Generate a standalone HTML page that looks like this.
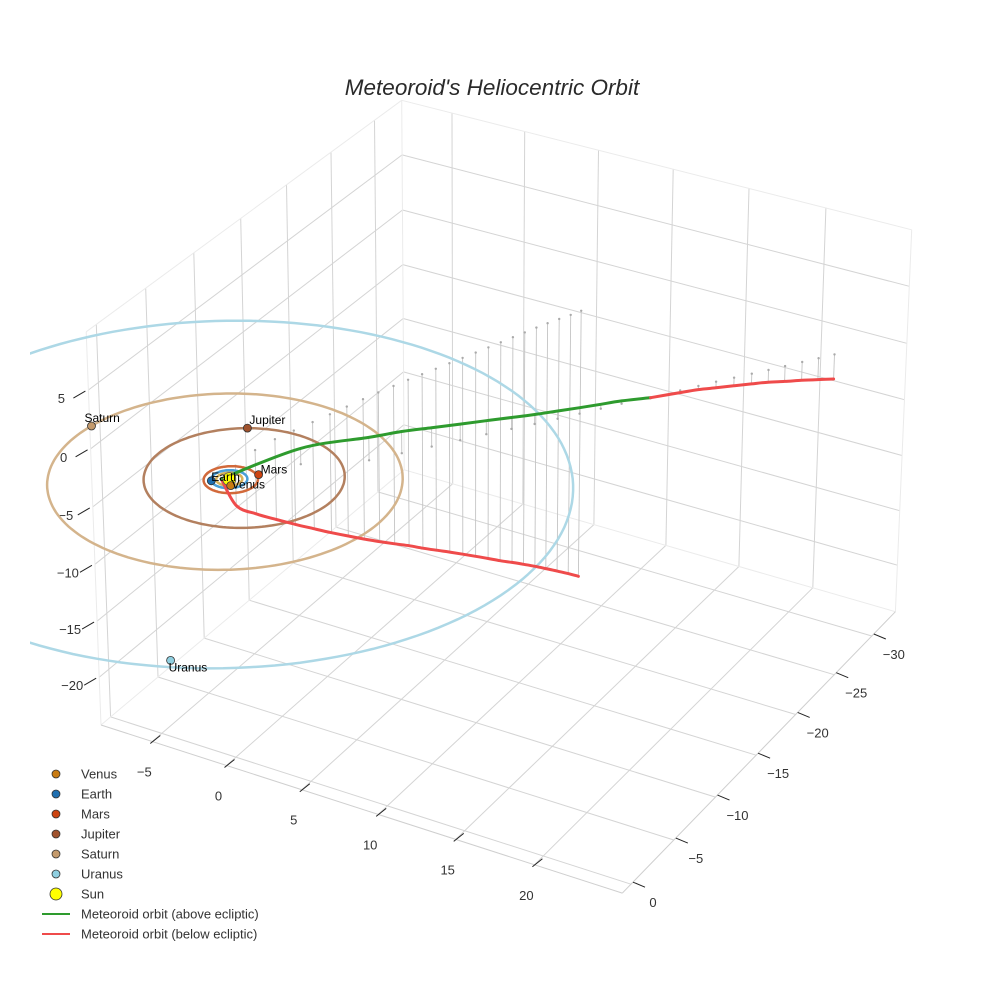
<!DOCTYPE html>
<html><head><meta charset="utf-8">
<style>
html,body{margin:0;padding:0;background:#fff;}
svg{display:block;font-family:"Liberation Sans",Arial,sans-serif;}
</style></head>
<body>
<svg id="chart" width="984" height="984" viewBox="0 0 984 984" xmlns="http://www.w3.org/2000/svg">
  <rect width="984" height="984" fill="#fff"/>
  <defs><clipPath id="clip"><rect x="30" y="0" width="924" height="984"/></clipPath></defs>
  <text x="492" y="95" text-anchor="middle" font-size="22.5" font-style="italic" fill="#2a2a2a">Meteoroid's Heliocentric Orbit</text>
  <g id="grid"></g>
  <g id="ticks"></g>
  <g id="plot" clip-path="url(#clip)"></g>
  <g id="legend"></g>
</svg>
<script>
// ---- chart data ----
const xTicks = [-5, 0, 5, 10, 15, 20];
const yTicks = [0, -5, -10, -15, -20, -25, -30];
const zTicks = [5, 0, -5, -10, -15, -20];
const xRange = [-8.5, 25.5];
const yRange = [-33.2, 1.0];
const zRange = [-24.3, 9.9];

const planetNames = ['Venus', 'Earth', 'Mars', 'Jupiter', 'Saturn', 'Uranus'];
const planetX = [0.45, -0.76, 1.13, -2.2, -9.9, 7.5];
const planetY = [0.56, 0.65, -1.25, -5.4, -1.2, 17.6];
const orbitRadius = [0.72, 1.0, 1.5, 5.55, 9.8, 19.2];
const orbitCenterX = [0, 0, 0.1, 0.6, -0.2, 0.1];
const orbitCenterY = [0, 0, 0, -0.6, 0.1, 0.6];
const planetColors = ['#c97b12', '#1f6fb0', '#cc4411', '#a0522d', '#c49a6c', '#8fcfe0'];
const orbitColors = ['#d7b25a', '#4a9fd8', '#d2693a', '#b3805f', '#d4b48c', '#add8e6'];

// meteoroid: branch below ecliptic (incoming)
const lowX = [-0.4,-0.5,-0.5,-0.2,0.2,0.6,0.97,1.33,1.68,2.03,2.38,2.73,3.08,3.43,3.77,4.11,4.44,4.76,5.07,5.37,5.67,5.97,6.27,6.6,6.93,7.22];
const lowY = [0.2,-1.43,-3.49,-5.10,-6.47,-7.84,-9.10,-10.35,-11.55,-12.67,-13.77,-14.82,-15.8,-16.76,-17.73,-18.67,-19.61,-20.53,-21.43,-22.33,-23.2,-24.05,-24.86,-25.66,-26.45,-27.2];
const lowZ = [0,-3.4,-5.5,-6.95,-8.15,-9.3,-10.35,-11.35,-12.3,-13.15,-13.95,-14.7,-15.45,-16.15,-16.85,-17.55,-18.25,-18.95,-19.65,-20.3,-20.95,-21.6,-22.25,-22.9,-23.55,-24.2];
// meteoroid: outgoing branch
const upX = [-0.4,2.54,5.59,6.75,7.82,8.83,9.75,10.67,11.52,12.35,13.14,13.89,14.63,15.72,16.78,17.43,18.07,18.74,19.4,20.03,20.64,21.27,21.88,22.47];
const upY = [0.2,-3.41,-5.69,-7.30,-8.78,-10.22,-11.55,-12.79,-13.94,-15.12,-16.26,-17.38,-18.49,-19.94,-21.54,-22.54,-23.5,-24.44,-25.38,-26.26,-27.16,-28.1,-28.99,-29.86];
const upZ = [0,1.35,1.95,1.85,1.62,1.38,1.16,0.98,0.82,0.67,0.52,0.38,0.24,0,-0.18,-0.32,-0.53,-0.71,-0.89,-1.07,-1.34,-1.61,-1.88,-2.16];

// ---- camera calibration (box corners -> screen) ----
const calib = [
  [xRange[0], yRange[0], zRange[1], 400, 102],
  [xRange[0], yRange[0], zRange[0], 405, 471],
  [xRange[0], yRange[1], zRange[1], 81, 335],
  [xRange[0], yRange[1], zRange[0], 100, 724],
  [xRange[1], yRange[0], zRange[1], 912, 231],
  [xRange[1], yRange[0], zRange[0], 895, 612],
  [xRange[1], yRange[1], zRange[0], 620, 895],
  [0, 0, 0, 238, 475],
  [xRange[0], yRange[0], 0, 403, 208],
  [xRange[1], yRange[0], 0, 907, 341]
];
function solveCamera(){
  const rows=[], rhs=[];
  for (const c of calib){
    const x=c[0]/20, y=c[1]/20, z=c[2]/20, u=(c[3]-492)/400, v=(c[4]-492)/400;
    rows.push([x,y,z,1,0,0,0,0,-u*x,-u*y,-u*z]); rhs.push(u);
    rows.push([0,0,0,0,x,y,z,1,-v*x,-v*y,-v*z]); rhs.push(v);
  }
  const n=11, A=[], b=[];
  for(let i=0;i<n;i++){A.push(new Array(n).fill(0)); b.push(0);}
  rows.forEach((r,k)=>{for(let i=0;i<n;i++){b[i]+=r[i]*rhs[k];for(let j=0;j<n;j++)A[i][j]+=r[i]*r[j];}});
  for(let i=0;i<n;i++){
    let p=i; for(let k=i+1;k<n;k++) if(Math.abs(A[k][i])>Math.abs(A[p][i])) p=k;
    [A[i],A[p]]=[A[p],A[i]]; [b[i],b[p]]=[b[p],b[i]];
    for(let k=i+1;k<n;k++){const f=A[k][i]/A[i][i]; for(let j=i;j<n;j++)A[k][j]-=f*A[i][j]; b[k]-=f*b[i];}
  }
  const s=new Array(n).fill(0);
  for(let i=n-1;i>=0;i--){let t=b[i];for(let j=i+1;j<n;j++)t-=A[i][j]*s[j];s[i]=t/A[i][i];}
  return s;
}
const P = solveCamera();
function proj(X,Y,Z){
  const x=X/20,y=Y/20,z=Z/20;
  const w=P[8]*x+P[9]*y+P[10]*z+1;
  return [492+400*(P[0]*x+P[1]*y+P[2]*z+P[3])/w, 492+400*(P[4]*x+P[5]*y+P[6]*z+P[7])/w];
}
const NS='http://www.w3.org/2000/svg';
function mk(tag, attrs, parent){const e=document.createElementNS(NS,tag);for(const k in attrs)e.setAttribute(k,attrs[k]);parent.appendChild(e);return e;}
function line3(a,b,stroke,sw,parent){const p=proj(...a),q=proj(...b);return mk('line',{x1:p[0].toFixed(1),y1:p[1].toFixed(1),x2:q[0].toFixed(1),y2:q[1].toFixed(1),stroke:stroke,'stroke-width':sw},parent);}

const grid=document.getElementById('grid');
const [x0,x1]=xRange,[y0,y1]=yRange,[z0,z1]=zRange;
const GC='#d4d4d4';
xTicks.forEach(x=>{const l=line3([x,y0,z0],[x,y1,z0],GC,1,grid);

});
yTicks.forEach(y=>{const l=line3([x0,y,z0],[x1,y,z0],GC,1,grid);

});
yTicks.forEach(y=>{const l=line3([x0,y,z0],[x0,y,z1],GC,1,grid);

});
zTicks.forEach(z=>{const l=line3([x0,y0,z],[x0,y1,z],GC,1,grid);

});
xTicks.forEach(x=>{const l=line3([x,y0,z0],[x,y0,z1],GC,1,grid);

});
zTicks.forEach(z=>{const l=line3([x0,y0,z],[x1,y0,z],GC,1,grid);

});
[[[x0,y0,z1],[x1,y0,z1]],[[x0,y0,z1],[x0,y1,z1]],[[x1,y0,z0],[x1,y0,z1]],[[x0,y1,z0],[x0,y1,z1]],[[x0,y0,z0],[x0,y0,z1]],[[x0,y0,z0],[x1,y0,z0]],[[x0,y0,z0],[x0,y1,z0]]].forEach(e=>{
  const l=line3(e[0],e[1],'#ebebeb',1,grid);
  
  
});
[[[x0,y1,z0],[x1,y1,z0]],[[x1,y1,z0],[x1,y0,z0]]].forEach(e=>{
  const l=line3(e[0],e[1],'#cfcfcf',1,grid);
  
  
});

const ticks=document.getElementById('ticks');
function tickLabel(txt,x,y,anchor){const t=mk('text',{x:x.toFixed(1),y:y.toFixed(1),'text-anchor':anchor,'font-size':13,fill:'#333'},ticks);t.textContent=txt;return t;}
function fmt(v){return v<0?'\u2212'+Math.abs(v):String(v);}
xTicks.forEach(x=>{
  const a=proj(x,y1,z0);
  const l=mk('line',{x1:a[0]-2,y1:a[1]+2,x2:a[0]+8,y2:a[1]-6,stroke:'#222','stroke-width':1},ticks);
  
  
  const t=tickLabel(fmt(x),a[0]-8,a[1]+35,'middle');
  
  
});
yTicks.forEach(y=>{
  const a=proj(x1,y,z0);
  const l=mk('line',{x1:a[0]+2,y1:a[1]-2,x2:a[0]+14,y2:a[1]+3,stroke:'#222','stroke-width':1},ticks);
  
  
  const t=tickLabel(fmt(y),a[0]+22,a[1]+23,'middle');
  
  
});
zTicks.forEach(z=>{
  const a=proj(x0,y1,z);
  const l=mk('line',{x1:a[0]-3,y1:a[1]+1,x2:a[0]-15,y2:a[1]+8,stroke:'#222','stroke-width':1},ticks);
  
  
  const t=tickLabel(fmt(z),a[0]-27,a[1]+13,'middle');
  
  
});

const plot=document.getElementById('plot');
function pathFrom(pts){return pts.map((p,i)=>(i?'L':'M')+p[0].toFixed(1)+' '+p[1].toFixed(1)).join(' ');}
function smoothPath(pts){
  if(pts.length<3) return pathFrom(pts);
  let d='M'+pts[0][0].toFixed(1)+' '+pts[0][1].toFixed(1);
  for(let i=0;i<pts.length-1;i++){
    const p0=pts[Math.max(0,i-1)],p1=pts[i],p2=pts[i+1],p3=pts[Math.min(pts.length-1,i+2)];
    const c1=[p1[0]+(p2[0]-p0[0])/6,p1[1]+(p2[1]-p0[1])/6];
    const c2=[p2[0]-(p3[0]-p1[0])/6,p2[1]-(p3[1]-p1[1])/6];
    d+=' C'+c1[0].toFixed(1)+' '+c1[1].toFixed(1)+' '+c2[0].toFixed(1)+' '+c2[1].toFixed(1)+' '+p2[0].toFixed(1)+' '+p2[1].toFixed(1);
  }
  return d;
}
function drops(X,Y,Z){
  for(let i=0;i<X.length;i++){
    if(Math.abs(Z[i])<0.05) continue;
    const a=proj(X[i],Y[i],Z[i]), b=proj(X[i],Y[i],0);
    const l=mk('line',{x1:a[0].toFixed(1),y1:a[1].toFixed(1),x2:b[0].toFixed(1),y2:b[1].toFixed(1),stroke:'#c4c4c4','stroke-width':0.9},plot);
    
    
    const d=mk('circle',{cx:b[0].toFixed(1),cy:b[1].toFixed(1),r:1.2,fill:'#aaa'},plot);
    
    
  }
}
drops(lowX,lowY,lowZ); drops(upX,upY,upZ);
orbitRadius.forEach((r,i)=>{
  const pts=[];
  for(let k=0;k<=180;k++){const t=k/180*2*Math.PI;pts.push(proj(orbitCenterX[i]+r*Math.cos(t),orbitCenterY[i]+r*Math.sin(t),0));}
  const p=mk('path',{d:pathFrom(pts),fill:'none',stroke:orbitColors[i],'stroke-width':2.5},plot);
  
  
});
function drawBranch(X,Y,Z,name){
  let seg=[], col=null;
  const flush=()=>{if(seg.length>1){const p=mk('path',{d:smoothPath(seg),fill:'none',stroke:col,'stroke-width':3,'stroke-linecap':'round'},plot);
    
    }};
  for(let i=0;i<X.length-1;i++){
    const zm=(Z[i]+Z[i+1])/2, c= zm>=0?'#2e9b2e':'#ef4b4b';
    if(c!==col){flush(); seg=[proj(X[i],Y[i],Z[i])]; col=c;}
    seg.push(proj(X[i+1],Y[i+1],Z[i+1]));
  }
  flush();
}
drawBranch(lowX,lowY,lowZ,'meteoroid-incoming');
drawBranch(upX,upY,upZ,'meteoroid-outgoing');
const s=proj(0,0,0);
const sun=mk('circle',{cx:s[0],cy:s[1],r:6.5,fill:'#ffff00',stroke:'#555','stroke-width':0.8},plot);


const labelOff=[[1,3],[0,0],[2,-1],[2,-4],[-7,-4],[-2,11]];
planetNames.forEach((n,i)=>{
  const p=proj(planetX[i],planetY[i],0);
  const c=mk('circle',{cx:p[0].toFixed(1),cy:p[1].toFixed(1),r:4,fill:planetColors[i],stroke:'#333','stroke-width':0.8},plot);
  
  
  const t=mk('text',{x:(p[0]+labelOff[i][0]).toFixed(1),y:(p[1]+labelOff[i][1]).toFixed(1),'font-size':12,fill:'#000'},plot);
  t.textContent=n;
  
  
});

const lg=document.getElementById('legend');
const legendNames=planetNames.concat(['Sun','Meteoroid orbit (above ecliptic)','Meteoroid orbit (below ecliptic)']);
legendNames.forEach((n,i)=>{
  const y=774+i*20;
  const g=mk('g',{},lg);
  
  
  if(i<6) mk('circle',{cx:56,cy:y,r:4,fill:planetColors[i],stroke:'#333','stroke-width':0.8},g);
  else if(i===6) mk('circle',{cx:56,cy:y,r:6,fill:'#ffff00',stroke:'#333','stroke-width':0.8},g);
  else mk('line',{x1:42,y1:y,x2:70,y2:y,stroke:i===7?'#2e9b2e':'#ef4b4b','stroke-width':2},g);
  const t=mk('text',{x:81,y:y+4.5,'font-size':13,fill:'#333'},g);
  t.textContent=n;
});
</script>
</body></html>
